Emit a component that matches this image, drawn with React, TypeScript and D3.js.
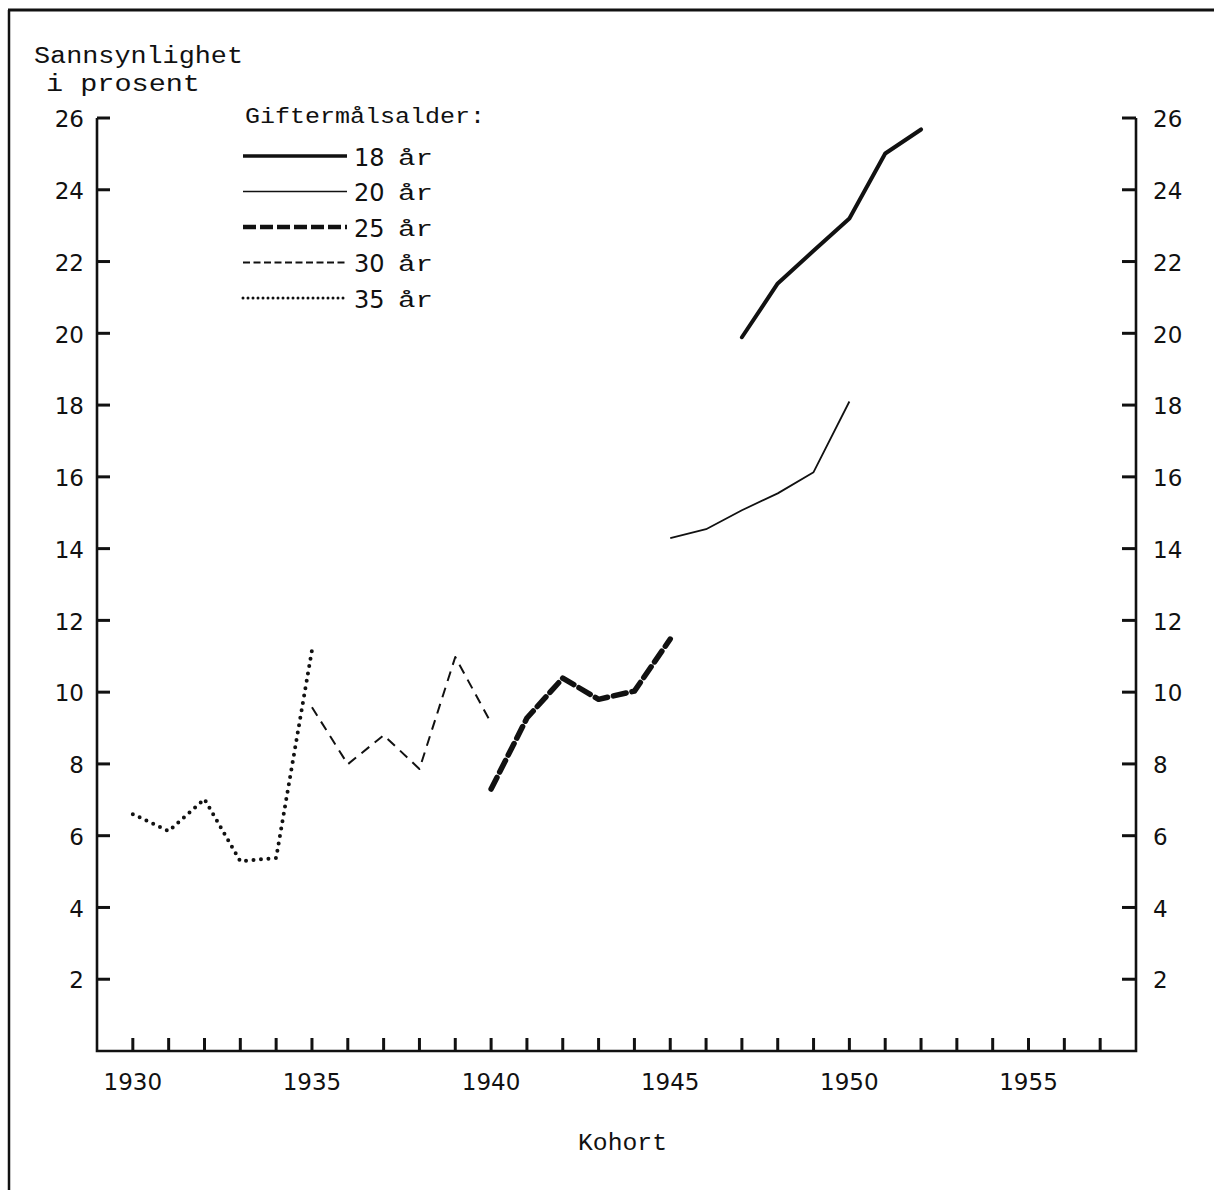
import { scaleLinear, line as d3line, range } from "d3";

const W = 1214;
const H = 1190;

const xTickYears = range(1930, 1958);
const xLabelYears = [1930, 1935, 1940, 1945, 1950, 1955];
const yTicks = [2, 4, 6, 8, 10, 12, 14, 16, 18, 20, 22, 24, 26];

const years18 = [1947, 1948, 1949, 1950, 1951, 1952];
const values18 = [19.89, 21.39, 22.3, 23.2, 25.01, 25.68];
const years20 = [1945, 1946, 1947, 1948, 1949, 1950];
const values20 = [14.29, 14.54, 15.07, 15.54, 16.13, 18.1];
const years25 = [1940, 1941, 1942, 1943, 1944, 1945];
const values25 = [7.3, 9.28, 10.39, 9.8, 10.03, 11.48];
const years30 = [1935, 1936, 1937, 1938, 1939, 1940];
const values30 = [9.58, 7.99, 8.8, 7.86, 10.98, 9.14];
const years35 = [1930, 1931, 1932, 1933, 1934, 1935];
const values35 = [6.6, 6.13, 7.02, 5.29, 5.38, 11.17];

const legendAges = ["18", "20", "25", "30", "35"];

const styles = [
  { width: 4, dash: undefined, cap: "round" },
  { width: 1.8, dash: undefined, cap: "butt" },
  { width: 5.5, dash: "13 6", cap: "round" },
  { width: 2, dash: "10 7", cap: "butt" },
  { width: 4, dash: "0 7.5", cap: "round" },
] as const;

const legendDash = ["", "", "13 4", "7 3.5", "0 5"];
const legendWidth = [3.5, 1.6, 4.5, 1.8, 3];

const MONO = "'Liberation Mono', 'DejaVu Sans Mono', monospace";
const DIG = "'DejaVu Sans', sans-serif";

export default function App() {
  const x = scaleLinear().domain([1929, 1958]).range([97, 1136]);
  const y = scaleLinear().domain([0, 26]).range([1051, 118]);

  const series = [
    { years: years18, values: values18 },
    { years: years20, values: values20 },
    { years: years25, values: values25 },
    { years: years30, values: values30 },
    { years: years35, values: values35 },
  ];

  const gen = d3line<[number, number]>()
    .x((d) => x(d[0]))
    .y((d) => y(d[1]));

  const x0 = x(1929);
  const x1 = x(1958);
  const yb = y(0);
  const yt = y(26);

  return (
    <>
      <style>{`body{margin:0;background:#fff}`}</style>
      <svg width={W} height={H} viewBox={`0 0 ${W} ${H}`} style={{ display: "block", background: "#fff" }}>
        {/* frame */}
        <line x1={8} x2={W} y1={10} y2={10} stroke="#111" strokeWidth={3} />
        <line x1={9} x2={9} y1={10} y2={H} stroke="#111" strokeWidth={2.5} />

        {/* axis titles */}
        <text x={34} y={63} fontFamily={MONO} fontSize={23} textLength={209} lengthAdjust="spacingAndGlyphs" fill="#111">
          Sannsynlighet
        </text>
        <text x={46} y={91} fontFamily={MONO} fontSize={23} textLength={154} lengthAdjust="spacingAndGlyphs" fill="#111">
          i prosent
        </text>
        <text x={578} y={1150} fontFamily={MONO} fontSize={23} textLength={89} lengthAdjust="spacingAndGlyphs" fill="#111">
          Kohort
        </text>

        {/* axes */}
        <path d={`M${x0},${yt}V${yb}H${x1}V${yt}`} fill="none" stroke="#111" strokeWidth={2.6} />
        {yTicks.map((t) => (
          <g key={t}>
            <line x1={x0} x2={x0 + 13} y1={y(t)} y2={y(t)} stroke="#111" strokeWidth={3} />
            <line x1={x1 - 14} x2={x1} y1={y(t)} y2={y(t)} stroke="#111" strokeWidth={3} />
            <text x={84} y={y(t)} dy="0.4em" textAnchor="end" fontFamily={DIG} fontSize={23} fill="#111">
              {t}
            </text>
            <text x={1153} y={y(t)} dy="0.4em" textAnchor="start" fontFamily={DIG} fontSize={23} fill="#111">
              {t}
            </text>
          </g>
        ))}
        {xTickYears.map((yr) => (
          <line key={yr} x1={x(yr)} x2={x(yr)} y1={yb} y2={yb - 13} stroke="#111" strokeWidth={3} />
        ))}
        {xLabelYears.map((yr) => (
          <text key={yr} x={x(yr)} y={yb + 39} textAnchor="middle" fontFamily={DIG} fontSize={23} fill="#111">
            {yr}
          </text>
        ))}

        {/* data */}
        {series.map((s, i) => (
          <path
            key={i}
            d={gen(s.years.map((yr, j) => [yr, s.values[j]] as [number, number])) ?? ""}
            fill="none"
            stroke="#111"
            strokeWidth={styles[i].width}
            strokeDasharray={styles[i].dash}
            strokeLinecap={styles[i].cap}
            strokeLinejoin="round"
          />
        ))}

        {/* legend */}
        <text x={245} y={123} fontFamily={MONO} fontSize={22} textLength={240} lengthAdjust="spacingAndGlyphs" fill="#111">
          Giftermålsalder:
        </text>
        {legendAges.map((age, i) => {
          const ly = 156 + i * 35.5;
          return (
            <g key={age}>
              <line
                x1={243}
                x2={347}
                y1={ly}
                y2={ly}
                stroke="#111"
                strokeWidth={legendWidth[i]}
                strokeDasharray={legendDash[i] || undefined}
                strokeLinecap={i === 4 ? "round" : "butt"}
              />
              <text x={354} y={ly} dy="0.4em" fontFamily={DIG} fontSize={24} fill="#111">
                {age}
              </text>
              <text x={398} y={ly} dy="0.4em" fontFamily={MONO} fontSize={22} textLength={35} lengthAdjust="spacingAndGlyphs" fill="#111">
                år
              </text>
            </g>
          );
        })}
      </svg>
    </>
  );
}
